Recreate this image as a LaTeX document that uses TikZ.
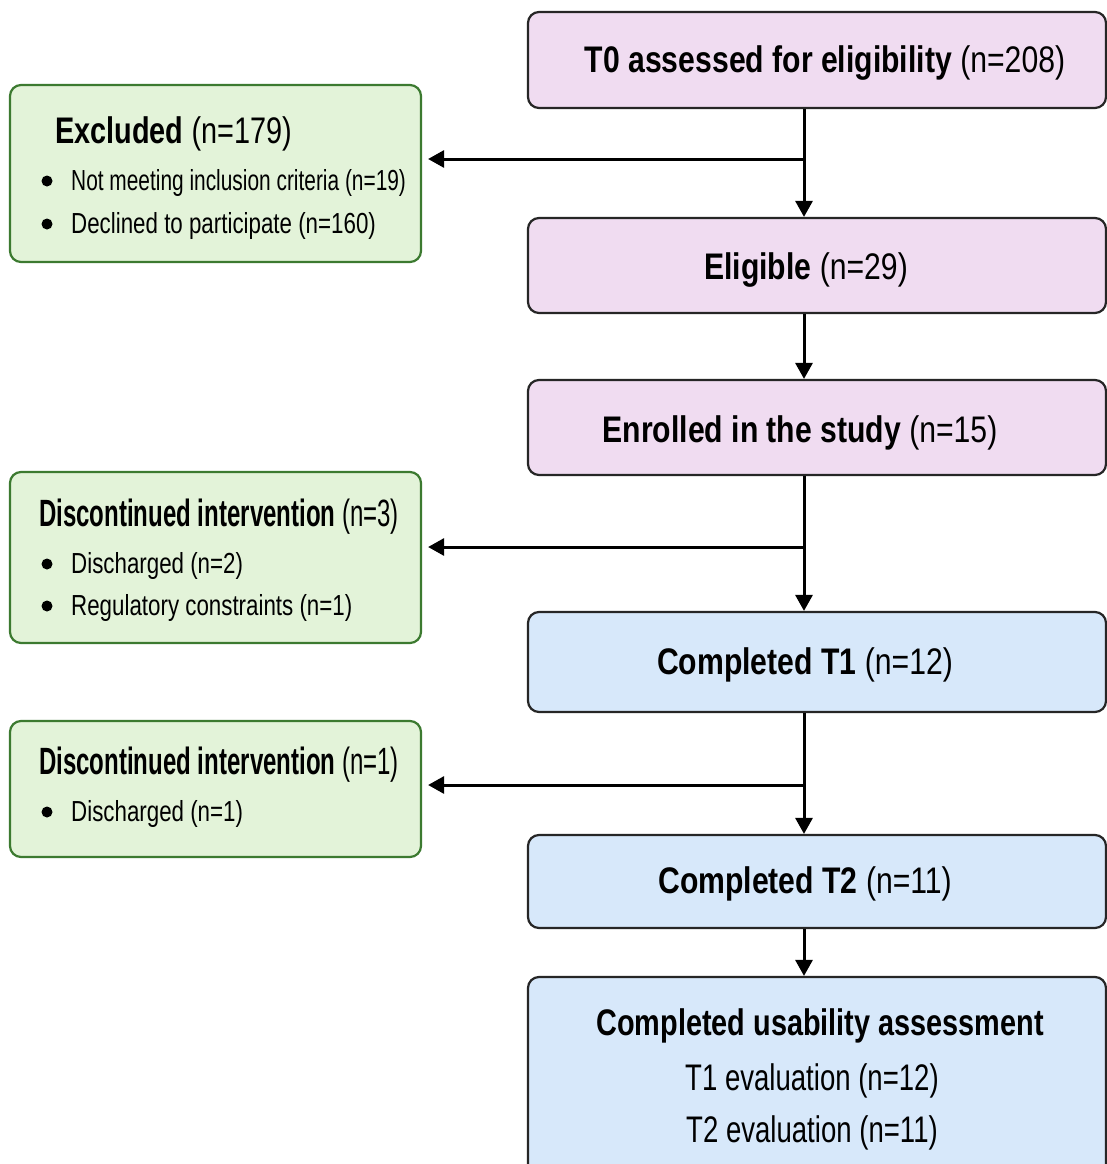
\documentclass[tikz,border=0pt]{standalone}
\usepackage{fontspec}
\setmainfont[FakeStretch=0.78]{Liberation Sans}
\newfontfamily\fhead[FakeStretch=0.815]{Liberation Sans}
\newfontfamily\fus[FakeStretch=0.78]{Liberation Sans}
\newfontfamily\feval[FakeStretch=0.745]{Liberation Sans}
\newfontfamily\narrowf[FakeStretch=0.632]{Liberation Sans}
\newfontfamily\itemf[FakeStretch=0.77]{Liberation Sans}
\newfontfamily\itemaf[FakeStretch=0.72]{Liberation Sans}
\usetikzlibrary{arrows.meta}
\definecolor{pinkf}{HTML}{F0DCF1}
\definecolor{greenf}{HTML}{E3F3D9}
\definecolor{greend}{HTML}{3C7A30}
\definecolor{bluef}{HTML}{D7E8FA}
\definecolor{edgec}{HTML}{262626}
\begin{document}
\begin{tikzpicture}[x=1pt,y=-1pt,
  box/.style={rectangle, rounded corners=11pt, draw=edgec, line width=2.2pt, inner sep=0pt},
  pinkbox/.style={box, fill=pinkf, minimum width=578pt},
  bluebox/.style={box, fill=bluef, minimum width=578pt},
  greenbox/.style={box, draw=greend, fill=greenf, minimum width=411pt},
  head/.style={anchor=base, inner sep=0pt, font=\fhead\fontsize{37}{44}\selectfont},
  ushead/.style={anchor=base, inner sep=0pt, font=\fus\fontsize{37}{44}\selectfont},
  evtxt/.style={anchor=base, inner sep=0pt, font=\feval\fontsize{37}{44}\selectfont},
  lhead/.style={anchor=base west, inner sep=0pt, font=\fus\fontsize{37}{44}\selectfont},
  nhead/.style={anchor=base west, inner sep=0pt, font=\narrowf\fontsize{38}{44}\selectfont},
  itm/.style={anchor=base west, inner sep=0pt, font=\itemf\fontsize{29}{34}\selectfont},
  itma/.style={itm, font=\itemaf\fontsize{29}{34}\selectfont},
  dot/.style={circle, fill=black, inner sep=0pt, minimum size=11pt},
  arr/.style={line width=3pt, -{Triangle[length=16pt,width=17pt]}}]
\useasboundingbox (0,0) rectangle (1107,1164);
\fill[white] (0,0) rectangle (1107,1164);

% right column boxes
\node[pinkbox, minimum height=96pt] (t0) at (817,60) {};
\node[pinkbox, minimum height=95pt] (elig) at (817,265.5) {};
\node[pinkbox, minimum height=95pt] (enr) at (817,427.5) {};
\node[bluebox, minimum height=100pt] (t1) at (817,662) {};
\node[bluebox, minimum height=93pt] (t2) at (817,881.5) {};
\node[bluebox, minimum height=213pt] (us) at (817,1083.5) {};

% left column boxes
\node[greenbox, minimum height=177pt] (excl) at (215.5,173.5) {};
\node[greenbox, minimum height=171pt] (dc3) at (215.5,557.5) {};
\node[greenbox, minimum height=136pt] (dc1) at (215.5,789) {};

% right texts
\node[head] (t0txt) at (825,73) {{\bfseries T0 assessed for eligibility} (n=208)};
\node[head] (eligtxt) at (806,279) {{\bfseries Eligible} (n=29)};
\node[head] (enrtxt) at (800,442) {{\bfseries Enrolled in the study} (n=15)};
\node[head] (t1txt) at (805,674) {{\bfseries Completed T1} (n=12)};
\node[head] (t2txt) at (805,893) {{\bfseries Completed T2} (n=11)};
\node[ushead] (ustxt) at (820,1035) {\bfseries Completed usability assessment};
\node[evtxt] (ev1) at (812,1090) {T1 evaluation (n=12)};
\node[evtxt] (ev2) at (812,1142) {T2 evaluation (n=11)};

% left texts
\node[lhead] (exh) at (55,143) {{\bfseries Excluded} (n=179)};
\node[dot] (b1) at (47,181) {};
\node[itma] (i1) at (71,190) {Not meeting inclusion criteria (n=19)};
\node[dot] (b2) at (47,224) {};
\node[itm] (i2) at (71,233) {Declined to participate (n=160)};

\node[nhead] (d3h) at (39,526) {{\bfseries Discontinued intervention} (n=3)};
\node[dot] (b3) at (47,564) {};
\node[itm] (i3) at (71,573) {Discharged (n=2)};
\node[dot] (b4) at (47,606) {};
\node[itm] (i4) at (71,615) {Regulatory constraints (n=1)};

\node[nhead] (d1h) at (39,774) {{\bfseries Discontinued intervention} (n=1)};
\node[dot] (b5) at (47,812) {};
\node[itm] (i5) at (71,821) {Discharged (n=1)};

% connectors
\coordinate (sp) at (804,0);
\coordinate (j1) at (804,159);
\coordinate (j2) at (804,547);
\coordinate (j3) at (804,785);
\draw[arr] (t0.south -| sp) -- (elig.north -| sp);
\draw[arr] (j1) -- ([xshift=6pt]excl.east |- j1);
\draw[arr] (elig.south -| sp) -- (enr.north -| sp);
\draw[arr] (enr.south -| sp) -- (t1.north -| sp);
\draw[arr] (j2) -- ([xshift=6pt]dc3.east |- j2);
\draw[arr] (t1.south -| sp) -- (t2.north -| sp);
\draw[arr] (j3) -- ([xshift=6pt]dc1.east |- j3);
\draw[arr] (t2.south -| sp) -- (us.north -| sp);
\end{tikzpicture}
\end{document}
